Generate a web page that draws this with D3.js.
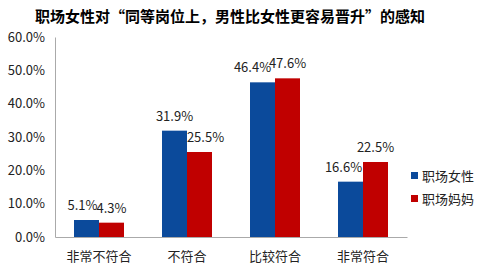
<!DOCTYPE html>
<html>
<head>
<meta charset="utf-8">
<script src="https://cdn.jsdelivr.net/npm/d3@7"></script>
<style>
  body { margin: 0; background: #fff; }
  text { font-family: "Noto Sans CJK SC", "Noto Sans", sans-serif; }
</style>
</head>
<body>
<svg id="chart" width="492" height="269"></svg>
<script>
const categories = ["非常不符合", "不符合", "比较符合", "非常符合"];
const seriesNames = ["职场女性", "职场妈妈"];
const womenValues = [5.1, 31.9, 46.4, 16.6];
const momValues = [4.3, 25.5, 47.6, 22.5];
const yTicks = [0, 10, 20, 30, 40, 50, 60];
const colors = ["#0b4a9b", "#c00000"];
// hand-nudged label offsets, like in the original sheet
const labelShift = [[-4, 0, -10, -7], [0, 6, 0, 0]];

const plotLeft = 55, plotRight = 407, plotTop = 37, plotBottom = 237;
const barW = 25;

const svg = d3.select("#chart");

svg.append("text")
    .attr("x", 230)
    .attr("y", 22)
    .attr("text-anchor", "middle")
    .style("font-size", "15px")
    .style("font-weight", "bold")
    .text("职场女性对“同等岗位上，男性比女性更容易晋升”的感知");

let x = d3.scaleBand().domain(categories).range([plotLeft, plotRight]);
let xs = d3.scaleBand().domain(seriesNames).range([-barW, barW]);
let y = d3.scaleLinear().domain([0, 60]).range([plotBottom, plotTop]);

// y axis
let yAxis = svg.append("g")
    .attr("transform", "translate(" + plotLeft + ",0)")
    .call(d3.axisLeft(y).tickValues(yTicks).tickSize(0).tickFormat(d => d.toFixed(1) + "%"));
yAxis.select(".domain").attr("stroke", "#aaa");
yAxis.selectAll("text")
    .attr("x", -10)
    .style("font-size", "13px")
    .attr("fill", "#222");

// x axis
let xAxis = svg.append("g")
    .attr("transform", "translate(0," + plotBottom + ")")
    .call(d3.axisBottom(x).tickSize(0));
xAxis.select(".domain").attr("stroke", "#aaa");
xAxis.selectAll("text")
    .attr("y", 15)
    .style("font-size", "13px")
    .attr("fill", "#222");

const series = [womenValues, momValues];
series.forEach((vals, s) => {
    let g = svg.append("g");
    g.selectAll("rect")
        .data(vals)
        .enter().append("rect")
        .attr("x", (d, i) => x(categories[i]) + x.bandwidth() / 2 + xs(seriesNames[s]))
        .attr("width", xs.bandwidth())
        .attr("y", d => y(d))
        .attr("height", d => plotBottom - y(d))
        .attr("fill", colors[s]);
    g.selectAll("text")
        .data(vals)
        .enter().append("text")
        .attr("x", (d, i) => x(categories[i]) + x.bandwidth() / 2 + xs(seriesNames[s]) + xs.bandwidth() / 2 + labelShift[s][i])
        .attr("y", d => y(d) - 10)
        .attr("text-anchor", "middle")
        .style("font-size", "13px")
        .attr("fill", "#222")
        .text(d => d.toFixed(1) + "%");
});

// legend
let legend = svg.append("g").attr("transform", "translate(411,172)");
seriesNames.forEach((name, i) => {
    legend.append("rect")
        .attr("x", 0)
        .attr("y", i * 23)
        .attr("width", 7)
        .attr("height", 7)
        .attr("fill", colors[i]);
    legend.append("text")
        .attr("x", 11)
        .attr("y", i * 23 + 4)
        .attr("dy", "0.35em")
        .style("font-size", "13px")
        .attr("fill", "#222")
        .text(name);
});
</script>
</body>
</html>
